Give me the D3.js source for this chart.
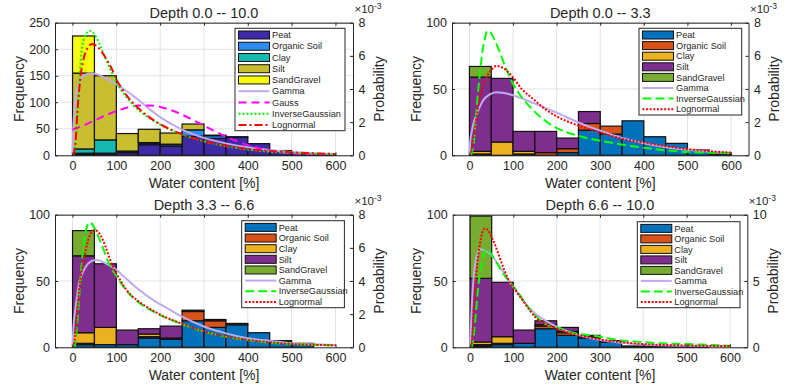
<!DOCTYPE html>
<html>
<head>
<meta charset="utf-8">
<script src="https://cdn.jsdelivr.net/npm/d3@7"></script>
<style>
  body { margin: 0; background: #fff; }
  svg { display: block; }
  text { font-family: "Liberation Sans", Arial, sans-serif; fill: #262626; }
</style>
</head>
<body>
<div id="chart"></div>
<script>
// histogram bins (water content %), 50 wide
const binEdges = [0, 50, 100, 150, 200, 250, 300, 350, 400, 450, 500, 550, 600];
const soilTypes = ["Peat", "Organic Soil", "Clay", "Silt", "SandGravel"];
const xTicks = [0, 100, 200, 300, 400, 500, 600];

// Depth 0.0 -- 10.0
const peat1 = [2, 3, 5, 20, 17, 36, 32, 34, 22, 9, 3, 2];
const org1  = [2, 1, 1, 3, 3, 12, 5, 1, 0, 0, 0, 0];
const clay1 = [8, 25, 2, 1, 1, 0, 0, 0, 0, 0, 0, 0];
const silt1 = [143, 121, 33, 25, 21, 11, 1, 0, 0, 0, 0, 0];
const sand1 = [70, 0, 0, 0, 0, 0, 0, 0, 0, 0, 0, 0];

// Depth 0.0 -- 3.3
const peat2 = [0, 0, 0, 0, 2, 19, 16, 26, 14, 9, 4, 1];
const org2  = [1, 0, 1, 2, 3, 5, 6, 0, 0, 0, 0, 0];
const clay2 = [2, 10, 2, 0, 0, 0, 0, 0, 0, 0, 0, 0];
const silt2 = [56, 48, 15, 16, 8, 9, 0, 0, 0, 0, 0, 0];
const sand2 = [8, 0, 0, 0, 0, 0, 0, 0, 0, 0, 0, 0];

// Depth 3.3 -- 6.6
const peat3 = [2, 2, 2, 7, 6, 20, 15, 17, 11, 4, 3, 0];
const org3  = [1, 0, 0, 1, 1, 7, 5, 1, 0, 1, 0, 0];
const clay3 = [8, 13, 0, 2, 0, 0, 0, 0, 0, 0, 0, 0];
const silt3 = [58, 48, 11, 4, 9, 1, 1, 0, 0, 0, 0, 0];
const sand3 = [19, 0, 0, 0, 0, 0, 0, 0, 0, 0, 0, 0];

// Depth 6.6 -- 10.0
const peat4 = [1, 2, 3, 14, 9, 7, 4, 1, 1, 1, 1, 0];
const org4  = [1, 1, 0, 2, 2, 1, 0, 0, 0, 0, 0, 0];
const clay4 = [2, 5, 0, 1, 1, 0, 0, 0, 0, 0, 0, 0];
const silt4 = [48, 41, 10, 3, 3, 1, 1, 0, 0, 0, 0, 0];
const sand4 = [47, 0, 0, 0, 0, 0, 0, 0, 0, 0, 0, 0];

// fitted pdfs, [water content, probability x 1e-3]
const gamma1 = [[0,0],[1,1.2],[3,2.3],[7.6,3.5],[15,4.34],[27,4.84],[42,4.95],[60,4.85],[75,4.65],[100,4.3],[125,3.85],[150,3.35],[175,2.8],[200,2.3],[250,1.55],[300,1.05],[350,0.72],[400,0.48],[450,0.32],[500,0.2],[550,0.13],[600,0.08]];
const gauss1 = [[0,1.55],[25,1.8],[50,2.1],[75,2.4],[100,2.67],[125,2.88],[150,3.0],[175,3.01],[200,2.92],[225,2.72],[250,2.45],[275,2.13],[300,1.79],[325,1.45],[350,1.13],[375,0.85],[400,0.62],[425,0.43],[450,0.29],[475,0.19],[500,0.12],[525,0.07],[550,0.04],[575,0.02],[600,0.01]];
const invg1 = [[0,0],[4,0.05],[7.6,1.0],[11,2.0],[15,4.1],[19,5.8],[23,6.7],[27,7.15],[33,7.4],[40,7.5],[45,7.45],[50,7.3],[60,6.8],[70,6.2],[80,5.55],[90,4.95],[100,4.4],[125,3.45],[150,2.75],[175,2.25],[200,1.85],[250,1.25],[300,0.85],[350,0.55],[400,0.35],[450,0.22],[500,0.15],[550,0.1],[600,0.06]];
const logn1 = [[0,0],[4,0.2],[8,1.2],[11,2.6],[15,3.9],[19,4.9],[27,6.0],[35,6.5],[45,6.72],[55,6.6],[65,6.3],[75,5.9],[90,5.2],[100,4.6],[125,3.55],[150,2.85],[175,2.3],[200,1.88],[250,1.27],[300,0.86],[350,0.58],[400,0.38],[450,0.26],[500,0.18],[550,0.12],[600,0.08]];

const gamma2 = [[0,0],[2,0.9],[5,1.4],[10,2.0],[17,2.5],[32,3.34],[45,3.65],[62,3.8],[75,3.78],[100,3.62],[125,3.38],[150,3.12],[175,2.85],[200,2.57],[250,1.98],[300,1.48],[350,1.05],[400,0.73],[450,0.49],[500,0.33],[550,0.22],[600,0.15]];
const invg2 = [[0,0],[5,0.1],[10,0.8],[15,2.3],[20,3.9],[25,5.2],[30,6.3],[35,7.0],[41,7.5],[47,7.45],[55,7.1],[62,6.7],[70,6.2],[80,5.5],[90,4.85],[100,4.3],[112,3.8],[135,3.03],[173,2.1],[204,1.6],[258,1.12],[334,0.72],[410,0.42],[486,0.22],[550,0.15],[600,0.12]];
const logn2 = [[0,0],[3,0.05],[8,0.8],[13,1.7],[18,2.6],[24,3.5],[30,4.1],[40,4.74],[50,5.15],[62,5.39],[75,5.3],[90,5.0],[100,4.7],[120,4.0],[146,3.4],[173,2.8],[200,2.35],[241,1.88],[294,1.43],[347,1.02],[410,0.72],[486,0.42],[550,0.25],[600,0.16]];

const gamma3 = [[0,0],[2,1.2],[6,2.25],[10,3.0],[15,3.86],[20,4.3],[30,4.86],[40,5.15],[53,5.27],[65,5.2],[80,5.0],[99,4.7],[120,4.2],[150,3.5],[187,2.8],[220,2.3],[250,1.85],[301,1.24],[350,0.84],[400,0.54],[450,0.38],[500,0.24],[550,0.18],[600,0.14]];
const invg3 = [[0,0],[4,0],[11,1.45],[15,3.0],[19,4.46],[23,5.6],[27,6.47],[32,7.2],[37,7.52],[42,7.5],[50,7.2],[60,6.6],[70,5.95],[84,5.0],[100,4.3],[110,3.9],[122,3.45],[149,2.75],[175,2.3],[200,1.94],[250,1.4],[301,0.94],[351,0.64],[400,0.44],[450,0.28],[500,0.2],[550,0.15],[600,0.12]];
const logn3 = [[0,0],[4,0.3],[10,1.9],[15,3.46],[21,4.6],[27,5.47],[33,6.2],[38,6.67],[44,6.95],[50,7.07],[57,7.0],[65,6.7],[75,6.1],[84,5.4],[100,4.45],[110,4.0],[122,3.5],[149,2.8],[175,2.35],[200,1.97],[250,1.42],[301,0.95],[351,0.65],[400,0.45],[450,0.3],[500,0.2],[550,0.15],[600,0.12]];

const gamma4 = [[0,0],[1.5,1.0],[4,3.07],[9,5.58],[15,6.83],[23,7.4],[30,7.35],[46,7.05],[69,6.08],[99,4.57],[106,4.3],[125,3.4],[150,2.55],[175,2.0],[200,1.55],[250,0.92],[300,0.55],[350,0.35],[400,0.22],[491,0.12],[600,0.09]];
const invg4 = [[0,0],[4,0.05],[9,1.05],[14,2.8],[19,4.57],[27,6.33],[33,7.1],[37,7.39],[44,7.25],[53,6.83],[76,5.58],[97,4.7],[107,4.32],[130,3.2],[152,2.35],[174,1.75],[205,1.43],[243,1.06],[289,0.85],[343,0.55],[397,0.4],[443,0.3],[497,0.25],[559,0.17],[600,0.12]];
const logn4 = [[0,0],[4,0.3],[9,3.07],[17,6.33],[25,8.2],[34,8.97],[42,8.8],[53,8.1],[76,6.1],[87,5.2],[107,4.2],[121,3.57],[150,2.3],[200,1.42],[250,0.92],[300,0.59],[350,0.39],[400,0.24],[491,0.14],[600,0.09]];

const parulaColors = ["#3e2aa6", "#2d8cf0", "#16b9b2", "#c9be2f", "#f9fb0e"];
const matlabColors = ["#0072bd", "#d95319", "#edb120", "#7e2f8e", "#77ac30"];

const gammaStyle = { color: "#bfaaf0", dash: null };
const gaussStyle = { color: "#ff00ff", dash: "8,5" };
const greenDot = { color: "#00ff00", dash: "2,2" };
const greenDash = { color: "#00ff00", dash: "9,4" };
const redDashDot = { color: "#ff0000", dash: "8,3,2,3" };
const redDot = { color: "#ff0000", dash: "2,1.6" };

const panels = [
  {
    title: "Depth 0.0 -- 10.0",
    left: 55, right: 353, top: 22.7, bottom: 155.3,
    yMax: 250, yTicks: [0, 50, 100, 150, 200, 250],
    pMax: 8, pTicks: [0, 2, 4, 6, 8],
    counts: [peat1, org1, clay1, silt1, sand1], colors: parulaColors,
    curves: [
      { name: "Gamma", pts: gamma1, ...gammaStyle },
      { name: "Gauss", pts: gauss1, ...gaussStyle },
      { name: "InverseGaussian", pts: invg1, ...greenDot },
      { name: "Lognormal", pts: logn1, ...redDashDot }
    ],
    legend: { x: 235, y: 28.3, w: 110, h: 102.4 }
  },
  {
    title: "Depth 0.0 -- 3.3",
    left: 452, right: 748.5, top: 22.7, bottom: 155.3,
    yMax: 100, yTicks: [0, 50, 100],
    pMax: 8, pTicks: [0, 2, 4, 6, 8],
    counts: [peat2, org2, clay2, silt2, sand2], colors: matlabColors,
    curves: [
      { name: "Gamma", pts: gamma2, ...gammaStyle },
      { name: "InverseGaussian", pts: invg2, ...greenDash },
      { name: "Lognormal", pts: logn2, ...redDot }
    ],
    legend: { x: 639, y: 28.3, w: 102.7, h: 86.7 }
  },
  {
    title: "Depth 3.3 -- 6.6",
    left: 55, right: 353, top: 214.7, bottom: 347.3,
    yMax: 100, yTicks: [0, 50, 100],
    pMax: 8, pTicks: [0, 2, 4, 6, 8],
    counts: [peat3, org3, clay3, silt3, sand3], colors: matlabColors,
    curves: [
      { name: "Gamma", pts: gamma3, ...gammaStyle },
      { name: "InverseGaussian", pts: invg3, ...greenDash },
      { name: "Lognormal", pts: logn3, ...redDot }
    ],
    legend: { x: 241.7, y: 220.7, w: 102.7, h: 87 }
  },
  {
    title: "Depth 6.6 -- 10.0",
    left: 452.7, right: 747.3, top: 214.7, bottom: 347.3,
    yMax: 100, yTicks: [0, 50, 100],
    pMax: 10, pTicks: [0, 5, 10],
    counts: [peat4, org4, clay4, silt4, sand4], colors: matlabColors,
    curves: [
      { name: "Gamma", pts: gamma4, ...gammaStyle },
      { name: "InverseGaussian", pts: invg4, ...greenDash },
      { name: "Lognormal", pts: logn4, ...redDot }
    ],
    legend: { x: 637.3, y: 221.7, w: 102.7, h: 86 }
  }
];

const svg = d3.select("#chart").append("svg")
  .attr("width", 795)
  .attr("height", 387);

svg.append("rect").attr("width", 795).attr("height", 387).attr("fill", "#fff");

function drawPanel(p, idx) {
  const g = svg.append("g");
  const x = d3.scaleLinear().domain([-40, 640]).range([p.left, p.right]);
  const y = d3.scaleLinear().domain([0, p.yMax]).range([p.bottom, p.top]);
  const yP = d3.scaleLinear().domain([0, p.pMax]).range([p.bottom, p.top]);

  // grid
  g.append("g").selectAll("line.vg")
    .data(xTicks)
    .join("line")
    .attr("x1", d => x(d)).attr("x2", d => x(d))
    .attr("y1", p.top).attr("y2", p.bottom)
    .attr("stroke", "#e3e3e3").attr("stroke-width", 1);
  g.append("g").selectAll("line.hg")
    .data(p.yTicks)
    .join("line")
    .attr("x1", p.left).attr("x2", p.right)
    .attr("y1", d => y(d)).attr("y2", d => y(d))
    .attr("stroke", "#e3e3e3").attr("stroke-width", 1);

  // stacked histogram
  const rows = binEdges.slice(0, -1).map((b, i) => {
    const row = { x0: b, x1: binEdges[i + 1] };
    soilTypes.forEach((s, k) => { row[s] = p.counts[k][i]; });
    return row;
  });
  const stacked = d3.stack().keys(soilTypes)(rows);

  g.append("g").selectAll("g")
    .data(stacked)
    .join("g")
    .attr("fill", (d, i) => p.colors[i])
    .selectAll("rect")
    .data(d => d.filter(v => v[1] > v[0]))
    .join("rect")
    .attr("x", d => x(d.data.x0))
    .attr("y", d => y(d[1]))
    .attr("width", d => x(d.data.x1) - x(d.data.x0))
    .attr("height", d => y(d[0]) - y(d[1]))
    .attr("stroke", "#111")
    .attr("stroke-width", 1.2);

  // pdf curves
  const clipId = "clip" + idx;
  svg.append("clipPath").attr("id", clipId)
    .append("rect")
    .attr("x", p.left).attr("y", p.top)
    .attr("width", p.right - p.left).attr("height", p.bottom - p.top);

  const line = d3.line()
    .x(d => x(d[0]))
    .y(d => yP(d[1]))
    .curve(d3.curveMonotoneX);

  g.append("g").attr("clip-path", `url(#${clipId})`)
    .selectAll("path")
    .data(p.curves)
    .join("path")
    .attr("d", d => line(d.pts))
    .attr("fill", "none")
    .attr("stroke", d => d.color)
    .attr("stroke-width", 2)
    .attr("stroke-dasharray", d => d.dash);

  // axes (ticks pointing inward)
  const axisColor = "#262626";
  const fontSize = 12.5;

  const bottomAxis = g.append("g")
    .attr("transform", `translate(0,${p.bottom})`)
    .call(d3.axisBottom(x).tickValues(xTicks).tickSize(-3).tickSizeOuter(0).tickPadding(6));
  const topAxis = g.append("g")
    .attr("transform", `translate(0,${p.top})`)
    .call(d3.axisTop(x).tickValues(xTicks).tickSize(-3).tickSizeOuter(0).tickFormat(""));
  const leftAxis = g.append("g")
    .attr("transform", `translate(${p.left},0)`)
    .call(d3.axisLeft(y).tickValues(p.yTicks).tickSize(-3).tickSizeOuter(0).tickPadding(5));
  const rightAxis = g.append("g")
    .attr("transform", `translate(${p.right},0)`)
    .call(d3.axisRight(yP).tickValues(p.pTicks).tickSize(-3).tickSizeOuter(0).tickPadding(5.5));

  [bottomAxis, topAxis, leftAxis, rightAxis].forEach(a => {
    a.selectAll("path.domain").attr("stroke", axisColor).attr("stroke-width", 1);
    a.selectAll(".tick line").attr("stroke", axisColor);
    a.selectAll("text")
      .attr("fill", axisColor)
      .style("font-family", '"Liberation Sans", Arial, sans-serif')
      .style("font-size", fontSize + "px");
  });

  // x10^-3 exponent label, kept above the top tick label
  const expo = g.append("text")
    .attr("x", p.right + 1.5)
    .attr("y", p.top - 10)
    .style("font-size", "11.5px");
  expo.append("tspan").text("\u00d710");
  expo.append("tspan").attr("dy", -4).style("font-size", "8.5px").text("-3");

  // titles and labels
  const cx = (p.left + p.right) / 2;
  const cy = (p.top + p.bottom) / 2;
  g.append("text")
    .attr("x", cx).attr("y", p.top - 5.2)
    .attr("text-anchor", "middle")
    .style("font-size", "14.5px")
    .text(p.title);

  g.append("text")
    .attr("x", cx).attr("y", p.bottom + 32.5)
    .attr("text-anchor", "middle")
    .style("font-size", "14px")
    .text("Water content [%]");

  g.append("text")
    .attr("transform", `translate(${p.left - 31.5},${cy}) rotate(-90)`)
    .attr("text-anchor", "middle")
    .style("font-size", "14px")
    .text("Frequency");

  g.append("text")
    .attr("transform", `translate(${p.right + 30.5},${cy}) rotate(-90)`)
    .attr("text-anchor", "middle")
    .style("font-size", "14px")
    .text("Probability");

  // legend
  const L = p.legend;
  const items = soilTypes.map((s, i) => ({ name: s, kind: "bar", color: p.colors[i] }))
    .concat(p.curves.map(c => ({ name: c.name, kind: "line", color: c.color, dash: c.dash })));
  const step = (L.h - 12.5) / (items.length - 1);

  const lg = g.append("g");
  lg.append("rect")
    .attr("x", L.x).attr("y", L.y)
    .attr("width", L.w).attr("height", L.h)
    .attr("fill", "#fff")
    .attr("stroke", axisColor)
    .attr("stroke-width", 1);

  const entry = lg.selectAll("g.entry")
    .data(items)
    .join("g")
    .attr("transform", (d, i) => `translate(${L.x},${L.y + 6.7 + i * step})`);

  entry.filter(d => d.kind === "bar")
    .append("rect")
    .attr("x", 3.5).attr("y", -4)
    .attr("width", 31).attr("height", 8)
    .attr("fill", d => d.color)
    .attr("stroke", "#111")
    .attr("stroke-width", 1);

  entry.filter(d => d.kind === "line")
    .append("line")
    .attr("x1", 3.5).attr("x2", 34.5)
    .attr("y1", 0).attr("y2", 0)
    .attr("stroke", d => d.color)
    .attr("stroke-width", 2)
    .attr("stroke-dasharray", d => d.dash);

  entry.append("text")
    .attr("x", 37)
    .attr("dy", "0.35em")
    .style("font-size", "9.2px")
    .text(d => d.name);
}

panels.forEach(drawPanel);
</script>
</body>
</html>
